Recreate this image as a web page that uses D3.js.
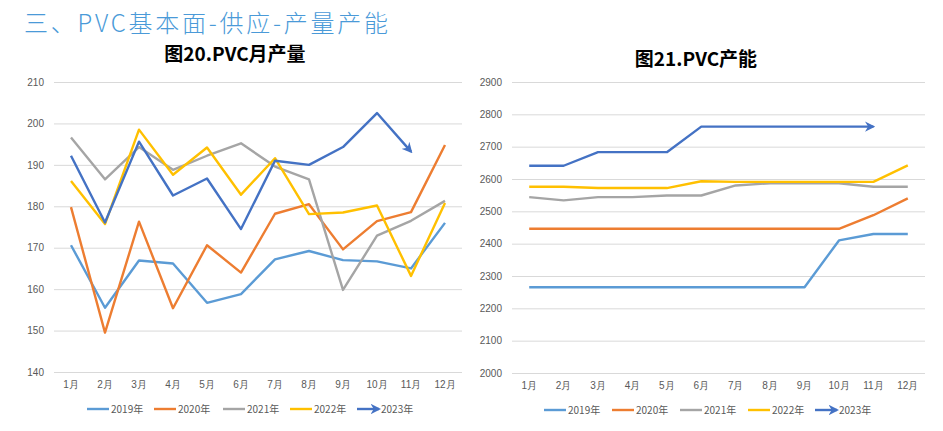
<!DOCTYPE html>
<html><head><meta charset="utf-8">
<script src="https://cdn.jsdelivr.net/npm/d3@7/dist/d3.min.js"></script>
<style>
html,body{margin:0;padding:0;background:#fff;}
svg{display:block;font-family:"Noto Sans CJK SC","Noto Sans",sans-serif;}
</style></head>
<body><svg id="c" width="943" height="431"></svg>
<script>
const months = ["1月","2月","3月","4月","5月","6月","7月","8月","9月","10月","11月","12月"];
const seriesNames = ["2019年","2020年","2021年","2022年","2023年"];
const seriesColors = ["#5B9BD5","#ED7D31","#A5A5A5","#FFC000","#4472C4"];

// Chart 20: PVC monthly output
const output2019 = [170.6,155.5,166.9,166.2,156.7,158.8,167.2,169.2,167.0,166.7,165.0,176.0];
const output2020 = [179.8,149.5,176.3,155.4,170.6,164.0,178.2,180.5,169.6,176.4,178.6,194.8];
const output2021 = [196.6,186.5,194.3,188.8,192.2,195.2,189.6,186.5,159.8,172.9,176.5,181.3];
const output2022 = [186.1,175.7,198.5,187.6,194.2,182.8,191.6,178.1,178.5,180.2,163.2,180.8];
const output2023 = [192.2,176.1,195.6,182.6,186.7,174.5,191.0,190.0,194.3,202.5,193.2];
const outputTicks = [140,150,160,170,180,190,200,210];

// Chart 21: PVC capacity
const cap2019 = [2265,2265,2265,2265,2265,2265,2265,2265,2265,2410,2430,2430];
const cap2020 = [2446,2446,2446,2446,2446,2446,2446,2446,2446,2446,2488,2540];
const cap2021 = [2544,2534,2544,2544,2549,2549,2580,2587,2587,2587,2576,2576];
const cap2022 = [2576,2576,2572,2572,2572,2593,2591,2591,2591,2591,2591,2642];
const cap2023 = [2641,2641,2683,2683,2683,2762,2762,2762,2762,2762,2762];
const capTicks = [2000,2100,2200,2300,2400,2500,2600,2700,2800,2900];

const svg = d3.select("#c");

// arrow marker
const defs = svg.append("defs");
defs.append("marker").attr("id","arr").attr("viewBox","0 0 10 10")
  .attr("refX",8).attr("refY",5).attr("markerWidth",4.4).attr("markerHeight",4.4)
  .attr("orient","auto").attr("markerUnits","strokeWidth")
  .append("path").attr("d","M0,0 L10,5 L0,10 L3,5 Z").attr("fill","#4472C4");

svg.append("text").attr("x",24).attr("y",32)
  .attr("font-size",24).attr("font-weight",300).attr("fill","#4A9AD8")
  .attr("textLength",364).attr("lengthAdjust","spacing")
  .text("三、PVC基本面-供应-产量产能");

function drawChart(cfg){
  const g = svg.append("g");
  const x = d3.scaleBand().domain(months).range([cfg.x0,cfg.x1]);
  const y = d3.scaleLinear().domain(cfg.domain).range([cfg.y0,cfg.y1]);
  g.append("text").attr("x",cfg.titleX).attr("y",cfg.titleY).attr("text-anchor","middle")
    .attr("font-size",19).attr("font-weight",700).attr("fill","#000").text(cfg.title);
  const ya = g.append("g").attr("transform",`translate(${cfg.x0},0)`)
    .call(d3.axisLeft(y).tickValues(cfg.ticks).tickSize(-(cfg.x1-cfg.x0)).tickPadding(10).tickFormat(d3.format("d")));
  ya.select(".domain").remove();
  ya.selectAll("line").attr("stroke","#D9D9D9").attr("stroke-width",1);
  ya.selectAll("text").attr("fill","#595959").attr("font-size",10).attr("font-family","Liberation Sans, Arial, sans-serif");
  const xa = g.append("g").attr("transform",`translate(0,${cfg.y0})`)
    .call(d3.axisBottom(x).tickSize(0).tickPadding(9));
  xa.select(".domain").remove();
  xa.selectAll("text").attr("fill","#595959").attr("font-size",10);
  const line = d3.line().x((d,i)=>x(months[i])+x.bandwidth()/2).y(d=>y(d));
  cfg.data.forEach((s,k)=>{
    const p = g.append("path").datum(s).attr("d",line).attr("fill","none")
      .attr("stroke",seriesColors[k]).attr("stroke-width",2.4).attr("stroke-linejoin","round");
    if(k===4) p.attr("marker-end","url(#arr)");
  });
  // legend
  cfg.legendX.forEach((lx,k)=>{
    const l = g.append("line").attr("x1",lx).attr("x2",lx+22).attr("y1",cfg.legendY).attr("y2",cfg.legendY)
      .attr("stroke",seriesColors[k]).attr("stroke-width",2.4);
    if(k===4) l.attr("marker-end","url(#arr)");
    g.append("text").attr("x",lx+24).attr("y",cfg.legendY+3.5).attr("font-size",10)
      .attr("fill","#595959").text(seriesNames[k]);
  });
}

drawChart({x0:54,x1:462,y0:372,y1:82,domain:[140,210],ticks:outputTicks,
  title:"图20.PVC月产量",titleX:235,titleY:61,
  data:[output2019,output2020,output2021,output2022,output2023],
  legendX:[87,154,223,290,357],legendY:409});

drawChart({x0:512,x1:925,y0:373,y1:82,domain:[2000,2900],ticks:capTicks,
  title:"图21.PVC产能",titleX:696,titleY:66,
  data:[cap2019,cap2020,cap2021,cap2022,cap2023],
  legendX:[544,612,680,748,815],legendY:410});
</script></body></html>
